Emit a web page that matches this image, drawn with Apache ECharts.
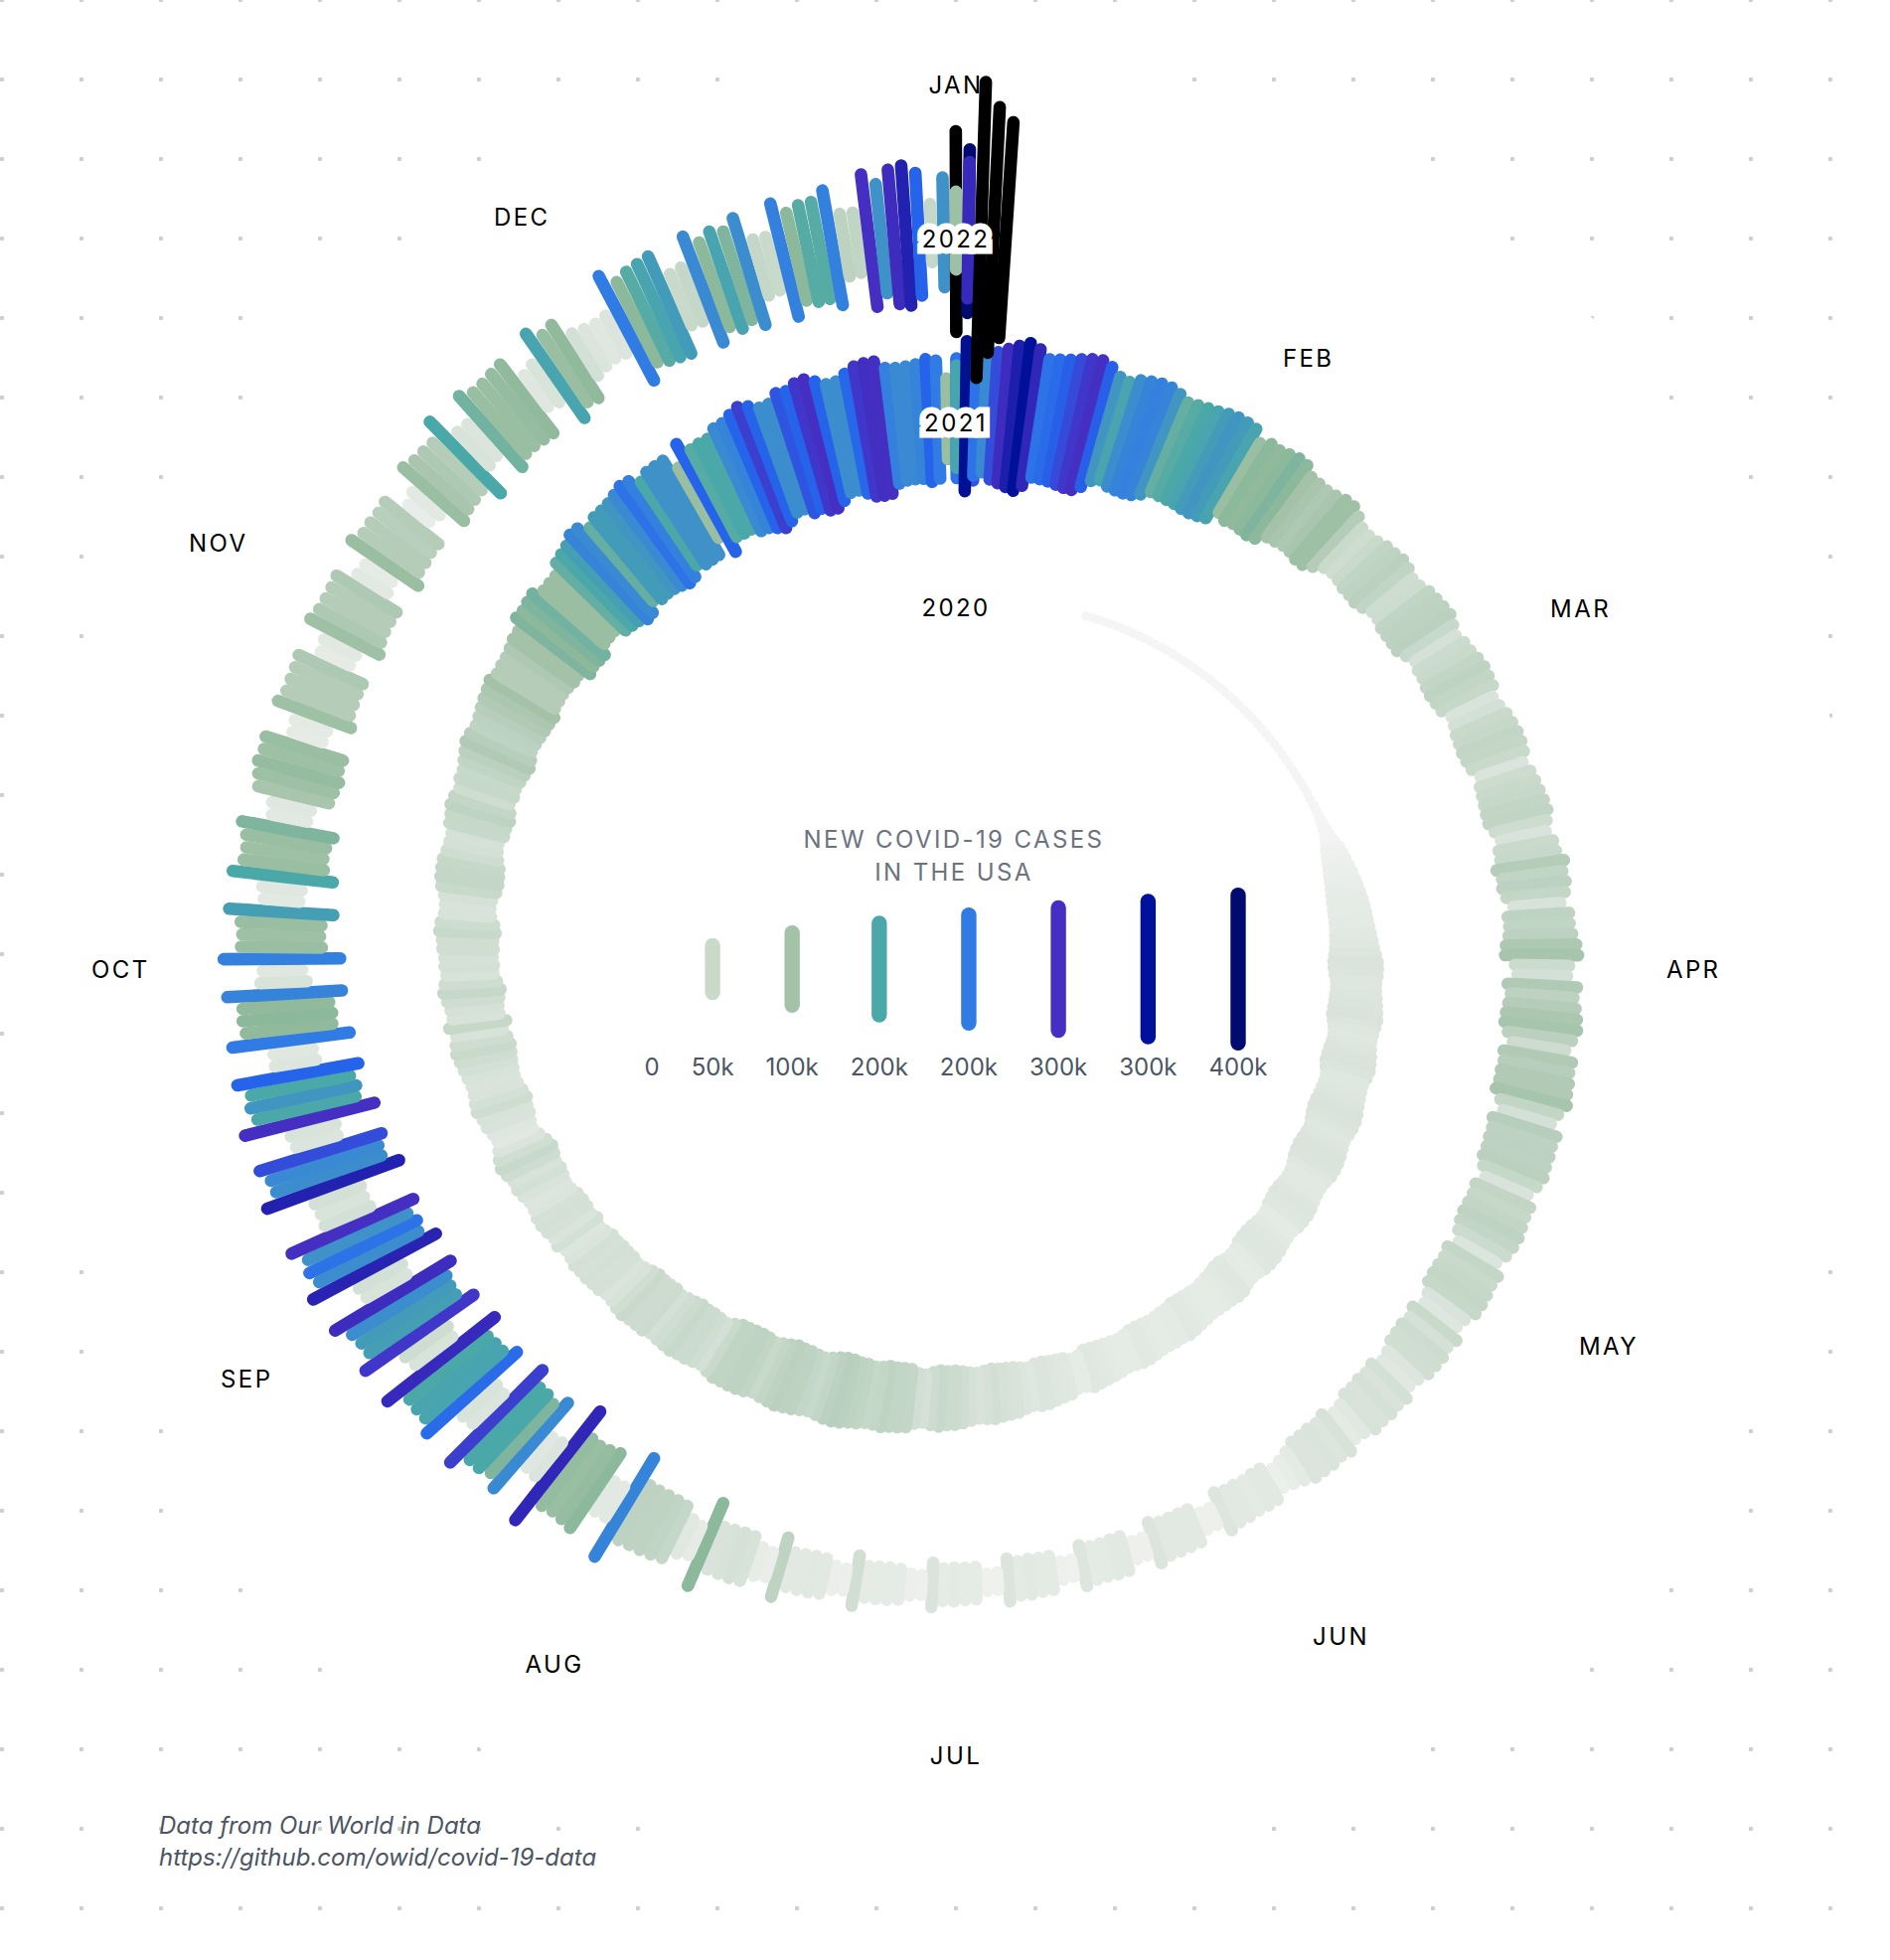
<!DOCTYPE html>
<html lang="en">
<head>
<meta charset="UTF-8">
<title>New COVID-19 cases in the USA</title>
<script src="https://cdn.jsdelivr.net/npm/echarts@6/dist/echarts.min.js"></script>
<style>
    * { margin: 0; padding: 0; }
    body { background: #fff; }
    #main {
        width: 1902px;
        height: 1972px;
        /* white disc hides the dot grid behind the spiral */
        background:
            radial-gradient(circle 917.5px at 960px 975px, #fff 100%, transparent 100%),
            radial-gradient(circle at 40px 40px, #cfcfcf 2px, transparent 2.6px) -38px -40px / 80px 80px;
    }
</style>
</head>
<body>
<div id="main"></div>
<script>
// new cases per day, in thousands, one small list per calendar month
var jan2020 = [0,0,0,0,0,0,0,0,0,0]; // starts on Jan 22
var feb2020 = [0,0,0,0,0,0,0,0,0,0,0,0,0,0,0,0,0,0,0,0,0,0,0,0,0,0,0,0,0];
var mar2020 = [0,0,0,0,0,0,0.1,0.2,0.3,0.4,0.5,1,2,3,5,8,10,12,14,16,18,20,22,24,25,26,27,28,30,32,34];
var apr2020 = [38,42,42,40,36,36,38,40,42,44,40,36,34,36,40,42,44,40,34,34,36,38,42,44,42,38,34,36,40,42];
var may2020 = [42,40,34,30,30,32,36,38,36,34,28,28,30,34,36,36,34,28,26,28,34,34,30,28,26,24,26,28,30,32,28];
var jun2020 = [28,26,26,28,30,30,26,24,26,28,30,32,34,26,24,32,34,36,40,40,34,38,44,46,48,52,48,44,48,54];
var jul2020 = [58,58,62,56,48,52,66,68,68,72,66,64,70,72,78,80,76,68,62,66,72,74,78,72,66,60,68,72,72,70,70];
var aug2020 = [60,50,54,58,58,62,58,54,50,58,56,56,60,54,46,42,48,48,50,48,50,42,38,50,42,48,50,48,40,38,44];
var sep2020 = [50,46,55,62,54,42,32,36,44,46,55,50,44,42,46,50,55,60,55,46,64,46,48,55,64,55,46,50,48,53];
var oct2020 = [53,62,57,46,44,48,60,66,66,64,55,50,48,62,64,72,66,55,64,62,70,78,88,82,72,76,82,88,92,100,84];
var nov2020 = [85,85,90,100,100,130,125,130,135,110,110,110,140,150,160,190,185,140,165,165,170,185,205,195,150,175,175,175,110,215];
var dec2020 = [145,150,150,185,190,215,240,215,180,180,225,215,245,250,215,180,180,212,245,252,250,195,185,185,190,215,200,110,205,220,225];
var jan2021 = [155,310,205,185,230,255,280,305,265,205,210,218,232,245,250,218,170,155,180,190,195,190,170,140,145,150,155,165,170,165,155];
var feb2021 = [110,125,120,125,130,125,100,95,90,95,105,105,85,60,55,60,70,72,78,70,55,57,70,73,75,78,62,48];
var mar2021 = [58,60,68,72,68,64,44,50,60,64,68,66,60,42,56,60,64,68,70,56,44,60,62,85,70,76,66,46,72,70,76];
var apr2021 = [90,96,58,50,88,74,84,92,96,78,56,88,82,88,88,96,68,50,82,74,76,74,78,64,44,68,64,68,72,68];
var may2021 = [58,40,66,60,64,66,64,44,36,60,48,56,54,52,38,32,50,44,48,44,46,32,28,46,38,42,40,40,28,20,15];
var jun2021 = [30,30,28,30,30,38,12,12,30,30,30,30,40,12,12,30,30,28,28,38,11,12,28,28,30,28,40,11,11,26];
var jul2021 = [26,28,26,42,13,15,24,26,26,25,52,15,17,30,32,31,30,72,19,23,46,48,46,44,125,25,33,65,70,72,73];
var aug2021 = [75,190,30,30,125,115,110,115,265,40,35,185,130,150,150,240,40,45,210,155,155,150,260,45,55,245,160,165,180,255,45];
var sep2021 = [50,270,180,205,175,250,50,45,50,275,180,185,230,40,45,250,150,170,150,215,38,35,200,120,125,120,190,45,35,195];
var oct2021 = [110,105,110,160,30,35,150,110,105,110,130,30,35,95,105,115,105,110,25,28,105,85,85,85,90,25,30,105,90,85,85];
var nov2021 = [90,30,25,110,85,85,80,85,20,30,110,95,90,85,150,45,40,135,110,110,115,120,35,45,155,110,120,50,40,35];
var dec2021 = [40,200,125,145,155,165,60,65,185,125,155,130,180,65,60,195,125,145,145,195,75,70,250,175,255,275,215,65,175,535,365];
var jan2022 = [105,260,1120,785,615];

var yearLabels = ['2020', '2021', '2022'];
var yearStartDays = [0, 366, 731];
var monthLabels = ['FEB', 'MAR', 'APR', 'MAY', 'JUN', 'JUL', 'AUG', 'SEP', 'OCT', 'NOV', 'DEC', 'JAN'];
var legendValues = [0, 50, 100, 150, 200, 250, 300, 350];
var legendLabels = ['0', '50k', '100k', '200k', '200k', '300k', '300k', '400k'];
var legendColors = ['#ffffff', '#c9dacb', '#a3c2a7', '#4aa8a8', '#317be5', '#452fc3', '#00129c', '#000a6f'];
var colorStops = [0, 20, 45, 60, 80, 100, 125, 150, 200, 215, 250, 300, 350, 420, 440];
var colorHexes = ['#f5f5f5', '#e9ede9', '#d8e3da', '#c9dacb', '#b9cfbe', '#a3c2a7', '#8cb89b', '#4aa8a8', '#317be5', '#2563eb', '#452fc3', '#00129c', '#000a6f', '#000a6f', '#000000'];

var years = [
    [jan2020, feb2020, mar2020, apr2020, may2020, jun2020, jul2020, aug2020, sep2020, oct2020, nov2020, dec2020],
    [jan2021, feb2021, mar2021, apr2021, may2021, jun2021, jul2021, aug2021, sep2021, oct2021, nov2021, dec2021],
    [jan2022]
];

var FONT = 'Inter';
var CENTER_X = 962, LABEL_Y = 975;
var SPIRAL_X = 964, SPIRAL_Y = 960;
var ANGLE_CYCLE = 363;   // days per turn of the angle axis
var BAR_WIDTH = 12.6, LEGEND_WIDTH = 15.4;

function spiralRadius(d) { return 353 + 0.513 * d; }
function yearRadius(d) { return 364 + 0.5075 * d; }
function legendLength(v) { return Math.sqrt(64 + 76.5 * v); }
// spiral bars run a little longer than the legend ones past 100k
function barLength(v) { return legendLength(v) * (v < 100 ? 1 : Math.min(1.06, 1 + (v - 100) / 500)); }

function barColor(v) {
    var i = 1;
    while (i < colorStops.length - 1 && v > colorStops[i]) i++;
    var t = Math.min(1, (v - colorStops[i - 1]) / (colorStops[i] - colorStops[i - 1]));
    var a = echarts.color.parse(colorHexes[i - 1]);
    var b = echarts.color.parse(colorHexes[i]);
    return 'rgb(' + [0, 1, 2].map(function (k) { return Math.round(a[k] + (b[k] - a[k]) * t); }).join(',') + ')';
}

// radius, angle and value for every day, in date order
var barData = [];
var dayCount = 0;
years.forEach(function (year, y) {
    var dayOfYear = 0;
    year.forEach(function (month, m) {
        var skip = (y === 0 && m === 0) ? 21 : 0;
        dayOfYear += skip;
        dayCount += skip;
        month.forEach(function (v) {
            dayOfYear++;
            var a = (dayOfYear - 1.15 + ANGLE_CYCLE) % ANGLE_CYCLE;
            barData.push([spiralRadius(dayCount), a, v]);
            dayCount++;
        });
    });
});

function renderBar(params, api) {
    var r = api.value(0), a = api.value(1), v = api.value(2);
    var L = barLength(v);
    // keep a sliver of length so the round caps of the smallest bars still draw
    var half = Math.max((L - BAR_WIDTH) / 2, 0.6);
    var p1 = api.coord([r - half, a]);
    var p2 = api.coord([r + half, a]);
    return {
        type: 'line',
        shape: { x1: p1[0], y1: p1[1], x2: p2[0], y2: p2[1] },
        style: { stroke: barColor(v), lineWidth: Math.min(BAR_WIDTH, L), lineCap: 'round' }
    };
}

function renderYear(params, api) {
    var p = api.coord([api.value(0), api.value(1)]);
    return {
        type: 'text',
        z2: 10,
        style: {
            text: yearLabels[params.dataIndex], x: p[0], y: p[1], align: 'center', verticalAlign: 'middle',
            fontFamily: FONT, fontSize: 24, fill: '#000', stroke: '#fff', lineWidth: 13, lineJoin: 'round'
        }
    };
}

function renderMonth(params, api) {
    var p = api.coord([api.value(0), api.value(1)]);
    return {
        type: 'text',
        style: {
            text: monthLabels[params.dataIndex], x: p[0], y: p[1], align: 'center', verticalAlign: 'middle',
            fontFamily: FONT, fontSize: 24, fill: '#000'
        }
    };
}

// legend columns sit side by side, each as wide as its label
var measure = document.createElement('canvas').getContext('2d');
measure.font = '24px ' + FONT;
var labelWidths = legendLabels.map(function (s) { return measure.measureText(s).width; });
var LEGEND_GAP = 32;
var legendTotal = labelWidths.reduce(function (s, w) { return s + w + LEGEND_GAP; }, -LEGEND_GAP);
var legendX = CENTER_X - legendTotal / 2;
var legendData = legendValues.map(function (v, i) {
    var x = legendX + labelWidths[i] / 2;
    legendX += labelWidths[i] + LEGEND_GAP;
    return [x, v];
});

function renderLegend(params, api) {
    var x = api.value(0), v = api.value(1);
    var kids = [];
    if (v > 0) {
        var half = (legendLength(v) - LEGEND_WIDTH) / 2;
        var p1 = api.coord([x, -half]);
        var p2 = api.coord([x, half]);
        kids.push({
            type: 'line',
            shape: { x1: p1[0], y1: p1[1], x2: p2[0], y2: p2[1] },
            style: { stroke: legendColors[params.dataIndex], lineWidth: LEGEND_WIDTH, lineCap: 'round' }
        });
    }
    var t = api.coord([x, 98]);
    kids.push({
        type: 'text',
        style: {
            text: legendLabels[params.dataIndex], x: t[0], y: t[1], align: 'center', verticalAlign: 'middle',
            fontFamily: FONT, fontSize: 24, fill: '#4b5563'
        }
    });
    return { type: 'group', children: kids };
}

var chart = echarts.init(document.getElementById('main'), null, { renderer: 'svg' });
chart.setOption({
    animation: false,
    backgroundColor: 'transparent',
    title: [
        {
            text: 'NEW COVID-19 CASES\nIN THE USA', left: CENTER_X - 7, top: 823, textAlign: 'center',
            textStyle: { fontFamily: FONT, fontSize: 24, fontWeight: 'normal', color: '#6b7280', lineHeight: 33 }
        },
        {
            text: 'Data from Our World in Data\nhttps://github.com/owid/covid-19-data', left: 155, top: 1815,
            textStyle: { fontFamily: FONT, fontSize: 24, fontStyle: 'italic', fontWeight: 'normal', color: '#4b5563', lineHeight: 32 }
        }
    ],
    polar: [
        { center: [SPIRAL_X, SPIRAL_Y], radius: 900 },
        { center: [CENTER_X, LABEL_Y], radius: 900 }
    ],
    angleAxis: [
        { polarIndex: 0, type: 'value', min: 0, max: ANGLE_CYCLE, startAngle: 90, show: false },
        { polarIndex: 1, type: 'value', min: 0, max: 12, startAngle: 90, show: false }
    ],
    radiusAxis: [
        { polarIndex: 0, type: 'value', min: 0, max: 900, show: false },
        { polarIndex: 1, type: 'value', min: 0, max: 900, show: false }
    ],
    grid: { left: 0, right: 0, top: 0, bottom: 0 },
    xAxis: { type: 'value', min: 0, max: 1902, show: false },
    yAxis: { type: 'value', min: -LABEL_Y, max: 1972 - LABEL_Y, inverse: true, show: false },
    series: [
        {
            type: 'custom', coordinateSystem: 'polar', polarIndex: 0, silent: true, clip: false,
            encode: { radius: 0, angle: 1 },
            renderItem: renderBar, data: barData
        },
        {
            type: 'custom', coordinateSystem: 'polar', polarIndex: 1, silent: true, clip: false, z: 5,
            encode: { radius: 0, angle: 1 },
            renderItem: renderYear,
            data: yearStartDays.map(function (d) { return [yearRadius(d), 0]; })
        },
        {
            type: 'custom', coordinateSystem: 'polar', polarIndex: 1, silent: true, clip: false,
            encode: { radius: 0, angle: 1 },
            renderItem: renderMonth,
            data: monthLabels.map(function (s, i) { return [693 + 16.4 * (i + 1), (i + 1) % 12]; })
        },
        {
            type: 'custom', coordinateSystem: 'cartesian2d', silent: true, clip: false,
            encode: { x: 0, y: 1 },
            renderItem: renderLegend, data: legendData
        }
    ]
});

// zrender has no tracking option, the svg text nodes take it directly
var tracked = monthLabels.concat(yearLabels, ['NEW COVID-19 CASES', 'IN THE USA']);
document.querySelectorAll('#main text').forEach(function (el) {
    if (tracked.indexOf(el.textContent) >= 0) el.style.letterSpacing = '0.1em';
});
</script>
</body>
</html>
